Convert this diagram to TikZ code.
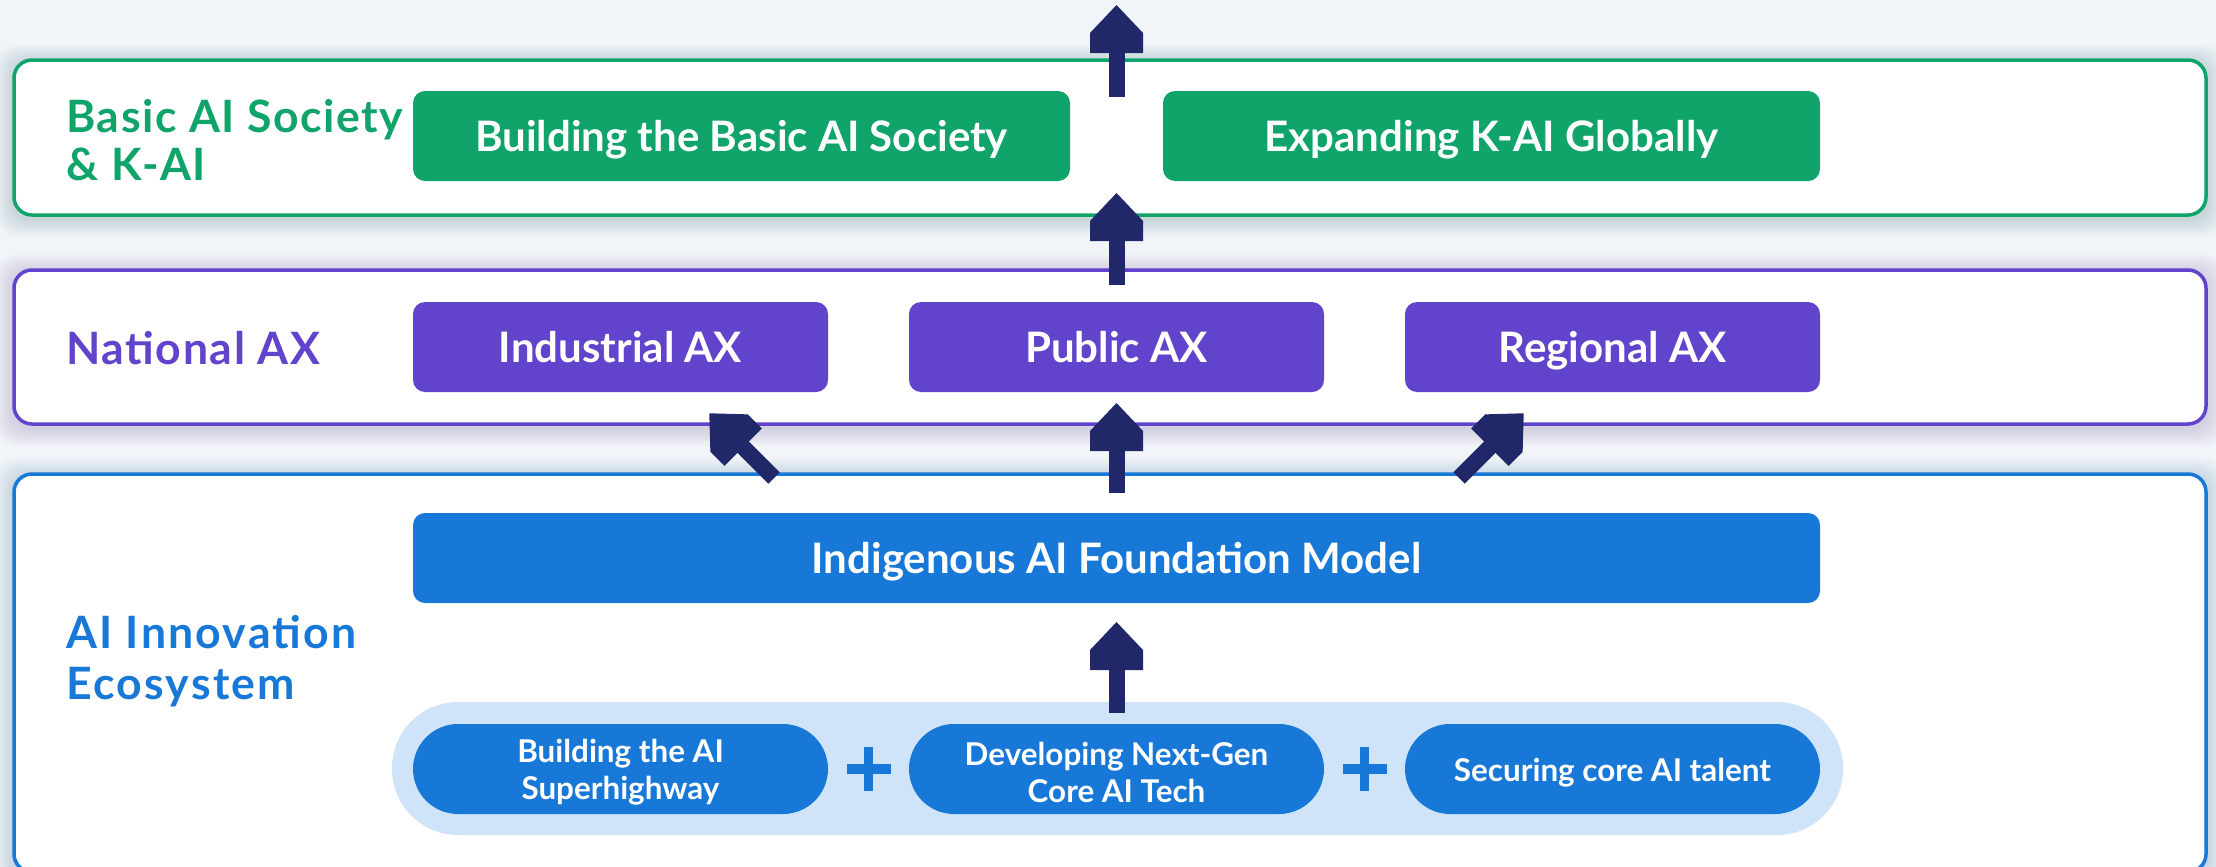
\documentclass[tikz,border=0pt]{standalone}
\usepackage{fontspec}
\setmainfont{Lato}
\usetikzlibrary{arrows.meta,calc}

\definecolor{bgc}{HTML}{F1F5FA}
\definecolor{gcol}{HTML}{10A36A}
\definecolor{pcol}{HTML}{6243CC}
\definecolor{bcol}{HTML}{1878D8}
\definecolor{lbcol}{HTML}{CFE4F9}
\definecolor{navy}{HTML}{20286A}

\pgfdeclarearrow{
  name = BigHead,
  setup code = {
    \pgfarrowssettipend{0pt}
    \pgfarrowssetlineend{-20pt}
    \pgfarrowssetvisualbackend{-24pt}
    \pgfarrowssetbackend{-24pt}
    \pgfarrowshullpoint{0pt}{0pt}
    \pgfarrowsupperhullpoint{-24pt}{13.25pt}
  },
  drawing code = {
    \pgfpathmoveto{\pgfpoint{0pt}{0pt}}
    \pgfpathlineto{\pgfpoint{-14pt}{13.25pt}}
    \pgfpathlineto{\pgfpoint{-24pt}{13.25pt}}
    \pgfpathlineto{\pgfpoint{-24pt}{-13.25pt}}
    \pgfpathlineto{\pgfpoint{-14pt}{-13.25pt}}
    \pgfpathclose
    \pgfusepathqfill
  }
}

\pgfdeclarelayer{back}
\pgfsetlayers{back,main}

\begin{document}
\begin{tikzpicture}[x=0.5pt,y=-0.5pt,
  outer/.style={draw, line width=1.75pt, fill=white, rounded corners=9pt, inner sep=0pt, minimum width=1096pt},
  inbox/.style={rounded corners=6pt, inner sep=0pt, minimum height=45pt, text=white,
    text height=15pt, text depth=0pt, font=\fontsize{21}{25}\selectfont\bfseries},
  pill/.style={fill=bcol, rounded corners=22.5pt, minimum width=207.5pt, minimum height=45pt, inner sep=0pt},
  pilltext/.style={text=white, align=center, inner sep=0pt, font=\fontsize{15.7}{18.5}\selectfont\bfseries},
  lab/.style={anchor=west, align=left, inner sep=0pt,
    font=\fontsize{22.3}{24}\selectfont\bfseries\addfontfeatures{LetterSpace=3.5}},
  arr/.style={navy, line width=8pt, -{BigHead}},
  plus/.style={bcol, line width=4.6pt},
  shad/.style={opacity=0.015, rounded corners=10pt}
]
\useasboundingbox (0,0) rectangle (2216,867);

% outer layer boxes
\node[outer, draw=gcol, minimum height=77.5pt] (gbox) at (1110,137.5) {};
\node[outer, draw=pcol, minimum height=77pt] (pbox) at (1110,347) {};
\node[outer, draw=bcol, minimum height=199pt] (bbox) at (1110,673) {};

% layer labels
\node[lab, text=gcol] (glab) at (66,140) {Basic AI Society\\\& K-AI};
\node[lab, text=pcol] (plab) at (66,348) {National AX};
\node[lab, text=bcol, font=\fontsize{22.3}{25.5}\selectfont\bfseries\addfontfeatures{LetterSpace=5}] (blab) at (66,661) {AI Innovation\\Ecosystem};

% green row
\node[inbox, fill=gcol, minimum width=328.5pt] (b1) at (741.5,136) {Building the Basic AI Society};
\node[inbox, fill=gcol, minimum width=328.5pt] (b2) at (1491.5,136) {Expanding K-AI Globally};

% purple row
\node[inbox, fill=pcol, minimum width=207.5pt] (p1) at (620.5,347) {Industrial AX};
\node[inbox, fill=pcol, minimum width=207.5pt] (p2) at (1116.5,347) {Public AX};
\node[inbox, fill=pcol, minimum width=207.5pt] (p3) at (1612.5,347) {Regional AX};

% blue row
\node[inbox, fill=bcol, minimum width=703.5pt] (fm) at (1116.5,558) {Indigenous AI Foundation Model};
\node[fill=lbcol, rounded corners=33pt, minimum width=725.5pt, minimum height=66.5pt, inner sep=0pt] (tray) at (1117.5,768.5) {};
\node[pill] (q1) at (620.5,769) {};
\node[pill] (q2) at (1116.5,769) {};
\node[pill] (q3) at (1612.5,769) {};
\node[pilltext] (q1t) at ([yshift=-1.8pt]q1.center) {Building the AI\\Superhighway};
\node[pilltext] (q2t) at ([yshift=-1.8pt]q2.center) {Developing Next-Gen\\Core AI Tech};
\node[pilltext] (q3t) at ([yshift=-1.8pt]q3.center) {Securing core AI talent};

% plus signs
\coordinate (m1) at ($(q1.east)!0.5!(q2.west)$);
\coordinate (m2) at ($(q2.east)!0.5!(q3.west)$);
\draw[plus] ($(m1)+(-22,0)$) -- ($(m1)+(22,0)$) ($(m1)+(0,-22)$) -- ($(m1)+(0,22)$);
\draw[plus] ($(m2)+(-22,0)$) -- ($(m2)+(22,0)$) ($(m2)+(0,-22)$) -- ($(m2)+(0,22)$);

% arrows
\coordinate (a1s) at (1116.5,97);   \coordinate (a1e) at (1116.5,5);
\coordinate (a2s) at (1116.5,285);  \coordinate (a2e) at (1116.5,193);
\coordinate (a3s) at (1116.5,493);  \coordinate (a3e) at (1116.5,403);
\coordinate (a4s) at (774,478);     \coordinate (a4e) at (709.3,413.3);
\coordinate (a5s) at (1459,478);    \coordinate (a5e) at (1523.7,413.3);
\coordinate (a6s) at (1116.5,713);  \coordinate (a6e) at (1116.5,622);
\draw[arr] (a1s) -- (a1e);
\draw[arr] (a2s) -- (a2e);
\draw[arr] (a3s) -- (a3e);
\draw[arr] (a4s) -- (a4e);
\draw[arr] (a5s) -- (a5e);
\draw[arr] (a6s) -- (a6e);

% background and soft shadows
\begin{pgfonlayer}{back}
  \fill[bgc] (0,0) rectangle (2216,867);
  \foreach \b/\c in {gbox/gcol, pbox/pcol, bbox/bcol} {
    \foreach \i in {1,...,10} {
      \fill[\c!55!black, shad] ([shift={(-1.7*\i,1.7*\i+3)}]\b.south west) rectangle ([shift={(1.7*\i,-1.7*\i+3)}]\b.north east);
    }
  }
\end{pgfonlayer}
\end{tikzpicture}
\end{document}
